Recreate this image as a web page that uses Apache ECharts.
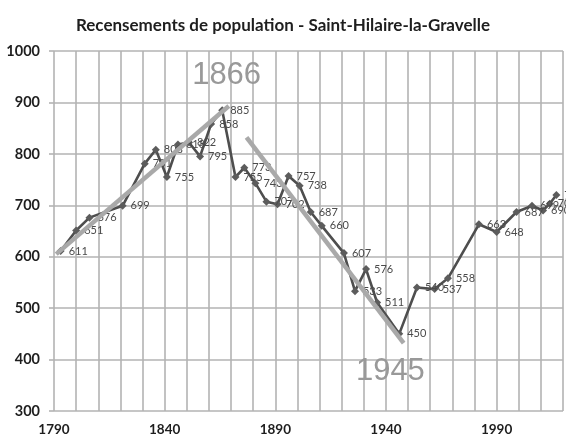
<!DOCTYPE html>
<html>
<head>
<meta charset="utf-8">
<script src="https://cdn.jsdelivr.net/npm/echarts@6/dist/echarts.min.js"></script>
<style>
  html, body { margin: 0; padding: 0; background: #ffffff; }
  #chart { width: 566px; height: 446px; }
</style>
</head>
<body>
<div id="chart"></div>
<script>
// Census years and population counts
var years = [1793, 1800, 1806, 1821, 1831, 1836, 1841, 1846, 1851, 1856, 1861, 1866,
             1872, 1876, 1881, 1886, 1891, 1896, 1901, 1906, 1911, 1921, 1926, 1931,
             1936, 1946, 1954, 1962, 1968, 1982, 1990, 1999, 2006, 2011, 2014, 2017];
var population = [611, 651, 676, 699, 781, 808, 755, 818, 822, 795, 858, 885,
                  755, 773, 743, 707, 702, 757, 738, 687, 660, 607, 533, 576,
                  511, 450, 540, 537, 558, 663, 648, 687, 699, 690, 703, 720];

// Trend arrows: [start year, start value, end year, end value]
var trendRise = [1791, 605, 1869, 893];
var trendFall = [1877, 832, 1948, 432];

// Annotations placed next to the arrows
var annotationText = ['1866', '1945'];
var annotationAt = [[1868, 952], [1942, 376]];

var titleText = 'Recensements de population - Saint-Hilaire-la-Gravelle';

var points = years.map(function (y, i) { return [y, population[i]]; });

var chart = echarts.init(document.getElementById('chart'), null, { renderer: 'canvas' });

var gridColor = '#b3b3b3';

chart.setOption({
  animation: false,
  backgroundColor: '#ffffff',
  title: {
    text: titleText,
    left: 'center',
    top: 12,
    textStyle: { fontFamily: 'Lato', fontWeight: 'bold', fontSize: 17, color: '#1e1e1e' }
  },
  grid: { left: 54, right: 0, top: 51, bottom: 35 },
  xAxis: {
    type: 'value',
    min: 1790,
    max: 2020,
    interval: 10,
    axisLine: { show: false },
    axisTick: { show: false },
    axisLabel: {
      margin: 12,
      fontFamily: 'Lato',
      fontWeight: 'bold',
      fontSize: 13.5,
      color: '#1e1e1e',
      formatter: function (v) { return (v - 1790) % 50 === 0 ? String(v) : ''; }
    },
    splitLine: { show: true, lineStyle: { color: gridColor, width: 1.6 } }
  },
  yAxis: {
    type: 'value',
    min: 300,
    max: 1000,
    interval: 100,
    axisLine: { show: false },
    axisTick: { show: true, length: 5, lineStyle: { color: gridColor, width: 1.6 } },
    axisLabel: {
      margin: 14,
      fontFamily: 'Lato',
      fontWeight: 'bold',
      fontSize: 14.5,
      color: '#1e1e1e',
      formatter: function (v) { return String(v); }
    },
    splitLine: { show: true, lineStyle: { color: gridColor, width: 1.6 } }
  },
  series: [
    {
      name: 'Population',
      type: 'line',
      z: 2,
      data: points,
      symbol: 'diamond',
      symbolSize: 8,
      showAllSymbol: true,
      lineStyle: { color: '#4e4e4e', width: 2.6 },
      itemStyle: { color: '#5c5c5c' },
      label: {
        show: true,
        position: 'right',
        distance: 4,
        fontFamily: 'Lato',
        fontSize: 11,
        color: '#4a4a4a',
        formatter: function (p) { return p.value[1]; }
      }
    },
    {
      name: 'Tendances',
      type: 'line',
      z: 5,
      data: [],
      markLine: {
        silent: true,
        animation: false,
        symbol: ['none', 'arrow'],
        symbolSize: [0, 15],
        label: { show: false },
        lineStyle: { color: '#a9a9a9', width: 4.5, type: 'solid', opacity: 1 },
        data: [
          [{ coord: [trendRise[0], trendRise[1]] }, { coord: [trendRise[2], trendRise[3]] }],
          [{ coord: [trendFall[0], trendFall[1]] }, { coord: [trendFall[2], trendFall[3]] }]
        ]
      },
      markPoint: {
        silent: true,
        animation: false,
        symbol: 'circle',
        symbolSize: 0,
        label: {
          show: true,
          position: 'inside',
          fontFamily: 'Liberation Sans',
          fontSize: 31,
          color: '#999999'
        },
        data: annotationText.map(function (t, i) {
          return { coord: annotationAt[i], value: t, label: { formatter: t } };
        })
      }
    }
  ]
});
</script>
</body>
</html>
